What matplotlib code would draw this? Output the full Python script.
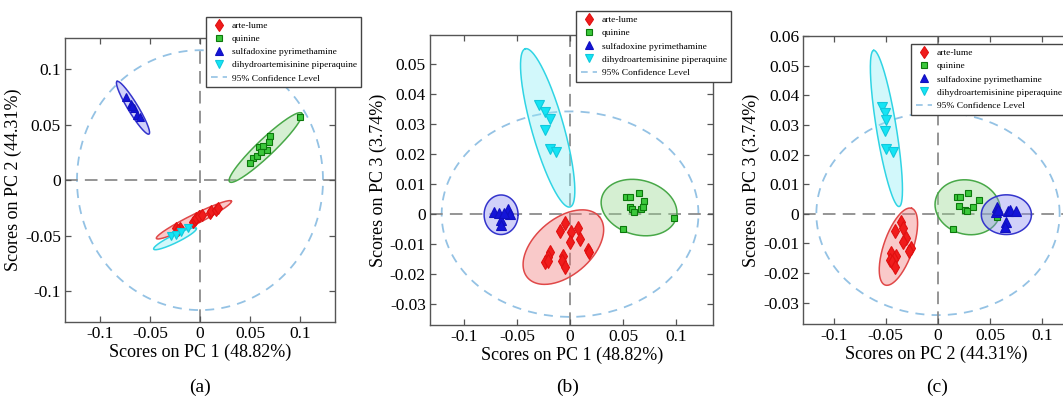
import numpy as np
import matplotlib
matplotlib.use("Agg")
import matplotlib.pyplot as plt
from matplotlib.lines import Line2D
from matplotlib.ticker import FixedLocator, FuncFormatter

plt.rcParams['font.family'] = ['Liberation Serif', 'DejaVu Serif']

# ---------------- data ----------------
groups = ["arte-lume", "quinine", "sulfadoxine pyrimethamine", "dihydroartemisinine piperaquine"]
conf_label = "95% Confidence Level"

# Panel (a): PC1 vs PC2
arte_a_x = [-0.0236, -0.0196, -0.022, -0.007, -0.0053, -0.0043, -0.001, 0.0024, 0.0097, 0.0114, 0.0164, 0.018]
arte_a_y = [-0.0435, -0.043, -0.045, -0.0381, -0.036, -0.034, -0.0321, -0.0315, -0.030, -0.0279, -0.027, -0.025]
quin_a_x = [0.100, 0.0698, 0.069, 0.059, 0.067, 0.053, 0.057, 0.0497, 0.063, 0.061]
quin_a_y = [0.0567, 0.040, 0.034, 0.0295, 0.027, 0.020, 0.0217, 0.0157, 0.031, 0.025]
sulfa_a_x = [-0.0745, -0.0695, -0.066, -0.063, -0.060, -0.068]
sulfa_a_y = [0.0753, 0.069, 0.065, 0.059, 0.057, 0.067]
dha_a_x = [-0.0286, -0.0236, -0.0186, -0.012]
dha_a_y = [-0.0502, -0.049, -0.0471, -0.043]
# ellipses: centre, major half-vector, minor half-vector
ell_a = [(-0.0061, -0.0357, 0.0375, 0.0168, 0.00223, -0.00403),
         (0.0656, 0.0294, 0.036, 0.0309, 0.0059, -0.0055),
         (-0.067, 0.0652, -0.016, 0.0237, 0.0043, 0.00235),
         (-0.025, -0.0528, 0.0213, 0.0093, 0.00176, -0.00324)]
conf_a = (0.123, 0.117)

# Panel (b): PC1 vs PC3
arte_b_x = [-0.0047, -0.0092, 0.001, 0.0078, 0.0, 0.0097, -0.0189, -0.0211, -0.0236, -0.0205, -0.007, -0.008, -0.0047, 0.0166, 0.018]
arte_b_y = [-0.0029, -0.0057, -0.006, -0.0045, -0.0094, -0.0082, -0.0127, -0.0144, -0.0161, -0.0155, -0.0141, -0.0155, -0.0178, -0.0118, -0.0127]
quin_b_x = [0.0528, 0.0566, 0.0647, 0.0694, 0.0566, 0.0581, 0.060, 0.067, 0.0692, 0.0984, 0.0496]
quin_b_y = [0.0056, 0.0056, 0.007, 0.0045, 0.0025, 0.0016, 0.0008, 0.0017, 0.0025, -0.0012, -0.005]
sulfa_b_x = [-0.0714, -0.0667, -0.0589, -0.065, -0.065, -0.057, -0.062]
sulfa_b_y = [0.0008, 0.0005, 0.0016, -0.002, -0.0037, 0.0002, 0.0005]
dha_b_x = [-0.0296, -0.0236, -0.0189, -0.0236, -0.0189, -0.0132]
dha_b_y = [0.0365, 0.0342, 0.0318, 0.028, 0.0216, 0.0207]
ell_b = [(-0.0063, -0.011, 0.034, 0.0101, 0.0169, -0.00726),
         (0.065, 0.0022, 0.0351, -0.00338, -0.0066, -0.0088),
         (-0.065, -0.0002, 0.016, 0.0, 0.0, 0.0066),
         (-0.0211, 0.0288, -0.0211, 0.0264, 0.0145, 0.0015)]
conf_b = (0.121, 0.0343)

# Panel (c): PC2 vs PC3
arte_c_x = [-0.0351, -0.0335, -0.0415, -0.0303, -0.0335, -0.0261, -0.0278, -0.0453, -0.0405, -0.0463, -0.0424, -0.0441, -0.0415]
arte_c_y = [-0.0029, -0.0048, -0.0057, -0.0082, -0.0094, -0.0116, -0.0124, -0.0131, -0.0144, -0.0155, -0.0153, -0.0163, -0.0178]
quin_c_x = [0.0182, 0.0215, 0.0287, 0.039, 0.0198, 0.0262, 0.0278, 0.0335, 0.0144, 0.0565]
quin_c_y = [0.0056, 0.0056, 0.007, 0.0047, 0.0025, 0.0014, 0.0008, 0.0023, -0.005, -0.0012]
sulfa_c_x = [0.0565, 0.0559, 0.067, 0.0693, 0.0744, 0.0655, 0.0646, 0.0575]
sulfa_c_y = [0.0023, 0.0005, 0.0008, 0.0014, 0.001, -0.0029, -0.0043, 0.0014]
dha_c_x = [-0.0533, -0.051, -0.0494, -0.0504, -0.0494, -0.0431]
dha_c_y = [0.0362, 0.034, 0.0318, 0.0278, 0.0218, 0.0207]
ell_c = [(-0.0379, -0.0111, 0.01274, 0.01294, 0.01322, -0.00162),
         (0.02845, 0.0022, 0.03056, -0.00287, -0.0067, -0.00882),
         (0.0655, -0.0003, 0.024, 0.0, 0.0, 0.0067),
         (-0.0494, 0.0288, -0.0122, 0.02635, 0.00936, 0.00054)]
conf_c = (0.1165, 0.0342)

xlabels = ["Scores on PC 1 (48.82%)", "Scores on PC 1 (48.82%)", "Scores on PC 2 (44.31%)"]
ylabels = ["Scores on PC 2 (44.31%)", "Scores on PC 3 (3.74%)", "Scores on PC 3 (3.74%)"]
panel_tags = ["(a)", "(b)", "(c)"]

# ---------------- style ----------------
mk = ['d', 's', '^', 'v']
mcol = ['#f01c1c', '#3cc83c', '#1414d8', '#14e4f4']
medge = ['#e01010', '#0c780c', '#1010c0', '#10c8dc']
msize_panel = [[6.0, 4.5, 6.0, 6.0], [7.0, 5.0, 7.0, 7.0], [7.0, 5.0, 7.0, 7.0]]
leg_msize = [6.0, 4.5, 6.0, 6.0]
ecol = ['#e04848', '#48a848', '#3434cc', '#30d4e4']
fcol = ['#f07878', '#98d890', '#8c8cf0', '#90eef6']
conf_col = '#94c2e4'
spine_col = '#555555'

W, H = 1063, 404
fig = plt.figure(figsize=(W / 100, H / 100), dpi=100)

def px_rect(l, t, r, b):
    return [l / W, 1 - b / H, (r - l) / W, (b - t) / H]

axes_rects = [px_rect(65, 38, 335, 322.3),
              px_rect(430, 35, 713.3, 325),
              px_rect(803.3, 36, 1068.5, 324.3)]
xlims = [(-0.135, 0.135), (-0.132, 0.135), (-0.129, 0.125)]
ylims = [(-0.128, 0.128), (-0.037, 0.0598), (-0.0373, 0.060)]
xt = [-0.1, -0.05, 0, 0.05, 0.1]
yticks = [[-0.1, -0.05, 0, 0.05, 0.1],
          [-0.03, -0.02, -0.01, 0, 0.01, 0.02, 0.03, 0.04, 0.05, 0.06],
          [-0.03, -0.02, -0.01, 0, 0.01, 0.02, 0.03, 0.04, 0.05, 0.06]]

data = [
    [(arte_a_x, arte_a_y), (quin_a_x, quin_a_y), (sulfa_a_x, sulfa_a_y), (dha_a_x, dha_a_y)],
    [(arte_b_x, arte_b_y), (quin_b_x, quin_b_y), (sulfa_b_x, sulfa_b_y), (dha_b_x, dha_b_y)],
    [(arte_c_x, arte_c_y), (quin_c_x, quin_c_y), (sulfa_c_x, sulfa_c_y), (dha_c_x, dha_c_y)],
]
ells = [ell_a, ell_b, ell_c]
confs = [conf_a, conf_b, conf_c]
legend_anchor = [(206 / W, 1 - 16.7 / H), (576 / W, 1 - 11 / H), (911 / W, 1 - 44 / H)]
tag_x = [200 / W, 568 / W, 937 / W]

fmt = FuncFormatter(lambda v, p: "0" if abs(v) < 1e-12 else f"{v:g}")
t = np.linspace(0, 2 * np.pi, 200)

for i in range(3):
    ax = fig.add_axes(axes_rects[i])
    ax.set_xlim(*xlims[i])
    ax.set_ylim(*ylims[i])
    # 95% confidence ellipse
    rx, ry = confs[i]
    ax.plot(rx * np.cos(t), ry * np.sin(t), color=conf_col, lw=1.3, ls=(0, (5, 4)), zorder=1)
    # zero lines
    ax.axhline(0, color='#8c8c8c', lw=1.3, ls=(0, (7, 4)), zorder=1.5)
    ax.axvline(0, color='#8c8c8c', lw=1.3, ls=(0, (7, 4)), zorder=1.5)
    # group ellipses
    for g in range(4):
        cx, cy, ux, uy, vx, vy = ells[i][g]
        ex = cx + ux * np.cos(t) + vx * np.sin(t)
        ey = cy + uy * np.cos(t) + vy * np.sin(t)
        ax.fill(ex, ey, color=fcol[g], alpha=0.4, lw=0, zorder=2 + g * 0.1)
        ax.plot(ex, ey, color=ecol[g], lw=1.1, zorder=2.05 + g * 0.1)
    for g in range(4):
        x, y = data[i][g]
        ax.plot(x, y, ls='none', marker=mk[g], ms=msize_panel[i][g], mfc=mcol[g], mec=medge[g],
                mew=0.8, zorder=4)
    ax.xaxis.set_major_locator(FixedLocator(xt))
    ax.yaxis.set_major_locator(FixedLocator(yticks[i]))
    ax.xaxis.set_major_formatter(fmt)
    ax.yaxis.set_major_formatter(fmt)
    ax.tick_params(direction='in', top=True, right=True, length=4, width=0.9,
                   color=spine_col, labelsize=12.5, pad=3)
    for s in ax.spines.values():
        s.set_color(spine_col)
        s.set_linewidth(1.0)
    ax.set_xlabel(xlabels[i], fontsize=13, labelpad=1)
    ax.set_ylabel(ylabels[i], fontsize=13, labelpad=2)

    handles = [Line2D([], [], ls='none', marker=mk[g], ms=leg_msize[g], mfc=mcol[g],
                      mec=medge[g], mew=0.8) for g in range(4)]
    handles.append(Line2D([], [], color=conf_col, lw=1.2, ls=(0, (4, 3))))
    leg = ax.legend(handles, groups + [conf_label], loc='upper left',
                    bbox_to_anchor=legend_anchor[i], bbox_transform=fig.transFigure,
                    borderaxespad=0, fontsize=6.8, frameon=True, fancybox=False,
                    framealpha=1, edgecolor='#444444', handlelength=1.7,
                    handletextpad=0.5, labelspacing=0.48, borderpad=0.5)
    leg.get_frame().set_linewidth(1.0)
    leg.set_zorder(10)
    fig.text(tag_x[i], 1 - 387 / H, panel_tags[i], ha='center', va='center', fontsize=14)

fig.savefig("out.png", dpi=100)
